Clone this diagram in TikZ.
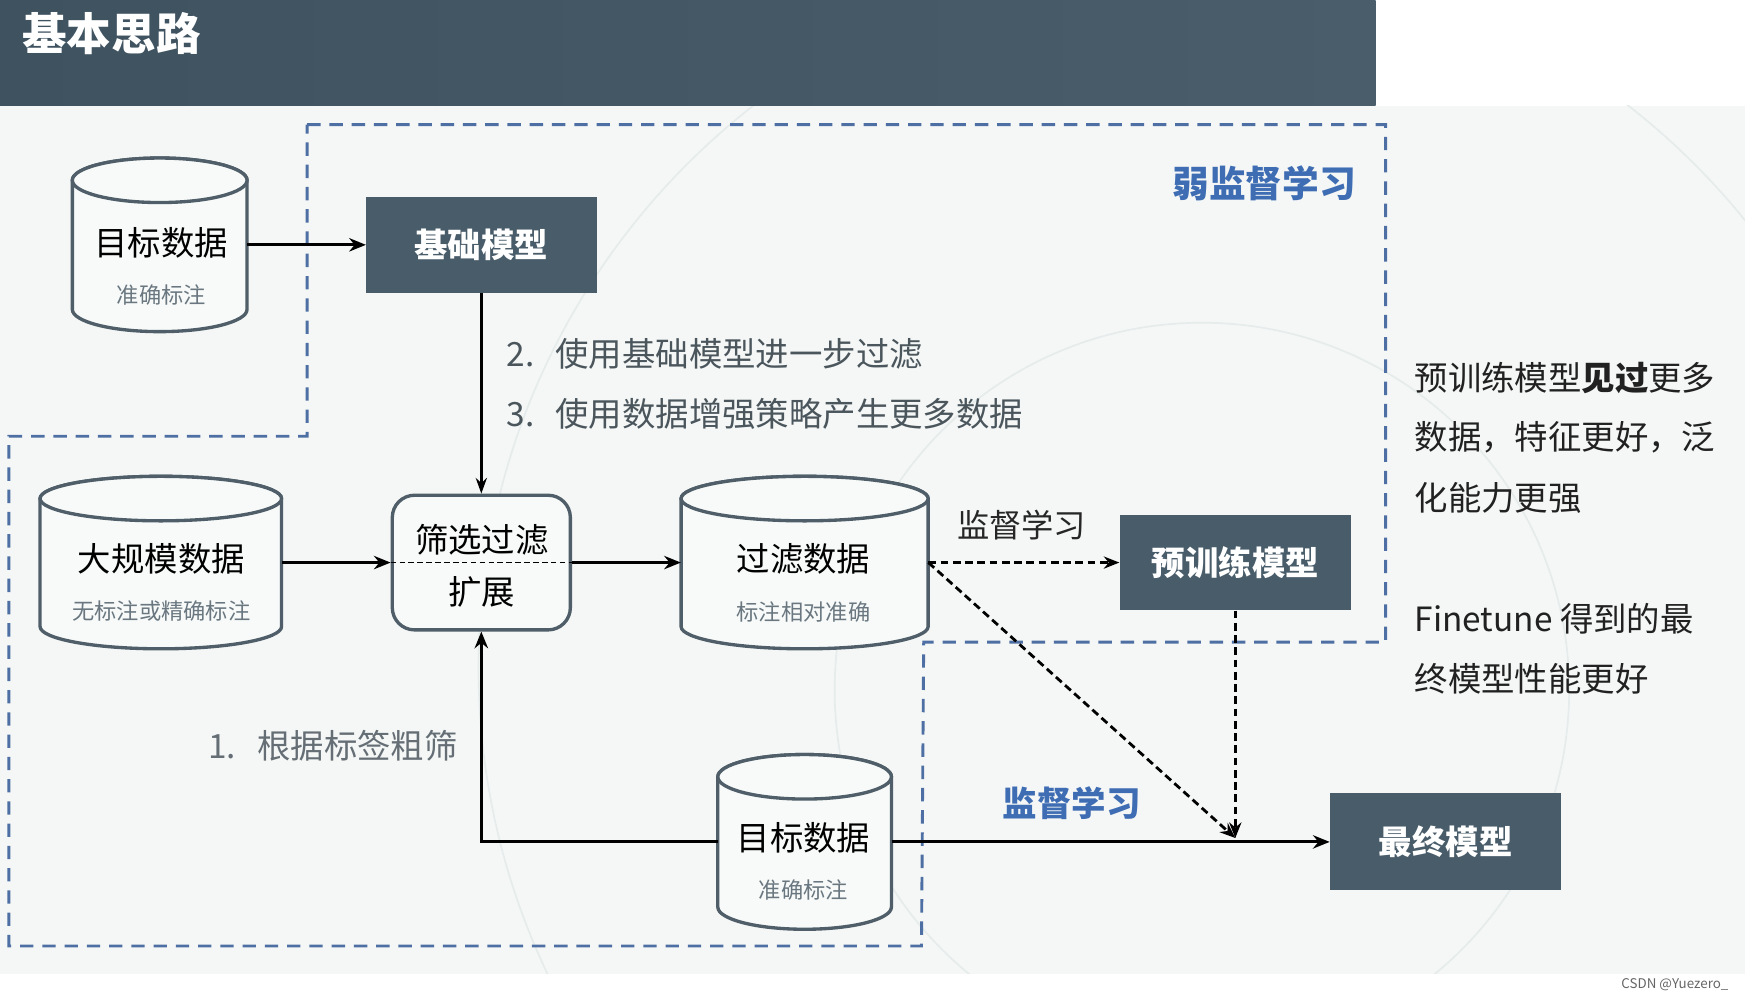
\documentclass[tikz,border=0pt]{standalone}
\usepackage{fontspec}
\setmainfont{Noto Sans CJK SC}
\usetikzlibrary{arrows.meta}
\definecolor{hdrA}{HTML}{3E5260}
\definecolor{hdrB}{HTML}{4A5D6A}
\definecolor{boxc}{HTML}{485C6A}
\definecolor{bgc}{HTML}{F4F7F6}
\definecolor{cylfill}{HTML}{F7FAF9}
\definecolor{dashblue}{HTML}{4E6FA3}
\definecolor{cylline}{HTML}{4F5E68}
\definecolor{labelgray}{HTML}{4A555C}
\definecolor{subgray}{HTML}{6A7780}
\definecolor{bluetxt}{HTML}{3F6DB3}
\definecolor{faint}{HTML}{E6ECEB}
\newcommand\fsz[1]{\fontsize{#1}{#1}\selectfont}
\newcommand\drawcyl[5]{%
  \path[cylbody] (#2-#4,#3+20) -- (#2-#4,#5-20)
     arc[start angle=180,end angle=0,x radius=#4,y radius=20]
     -- (#2+#4,#3+20)
     arc[start angle=0,end angle=-180,x radius=#4,y radius=20] -- cycle;
  \path[cylbody] (#2,#3+20) ellipse[x radius=#4,y radius=20];
  \node[cylnode, minimum width={2*#4pt}, minimum height={(#5-#3)*1pt}] (#1) at (#2,{(#3+#5)/2}) {};
}
\tikzset{
  darkbox/.style={fill=boxc, draw=none, text=white, font=\fsz{30}\bfseries, minimum width=207pt, minimum height=86pt, inner sep=0pt},
  cylnode/.style={draw=none, inner sep=0pt},
  cylbody/.style={draw=cylline, line width=3pt, fill=cylfill},
  maintxt/.style={font=\fsz{30}, text=black, inner sep=0pt},
  subtxt/.style={font=\fsz{20}, text=subgray, inner sep=0pt},
  arr/.style={draw=black, line width=2.8pt, -{Stealth[length=15pt,width=12pt]}},
  thinarr/.style={draw=black, line width=2.2pt, -{Stealth[length=14pt,width=10pt]}},
  darr/.style={draw=black, line width=2.5pt, dash pattern=on 7pt off 4pt, -{Stealth[length=14pt,width=11pt]}},
  region/.style={draw=dashblue, line width=2.6pt, dash pattern=on 12pt off 8pt},
  note/.style={font=\fsz{30}, text=labelgray, anchor=west, inner sep=0pt},
  rtxt/.style={font=\fsz{30}, text=black!87, anchor=west, inner sep=0pt},
  bluelbl/.style={font=\fsz{31}\bfseries, text=bluetxt, inner sep=0pt},
}
\begin{document}
\begin{tikzpicture}[x=1pt,y=-1pt]
\useasboundingbox (0,0) rectangle (1568,899);
% backgrounds
\fill[white] (0,0) rectangle (1568,899);
\fill[bgc] (0,95) rectangle (1568,875);
\begin{scope}
  \clip (0,95) rectangle (1568,875);
  \draw[faint, line width=1.5pt] (1070,600) circle[radius=640];
  \draw[faint, line width=1.5pt] (1080,620) circle[radius=330];
\end{scope}
\shade[left color=hdrA, right color=hdrB] (0,0) rectangle (1236,95);
\node[font=\fsz{40}\bfseries, text=white, anchor=west, inner sep=0pt] (title) at (20,30) {基本思路};

% dashed region
\draw[region] (276,112) -- (1245,112) -- (1245,577) -- (830,577) -- (828,850)
   -- (8,850) -- (8,392) -- (276,392) -- cycle;

% cylinders
\drawcyl{tgt1}{143.5}{142}{78.5}{298}
\node[maintxt] (tgt1t) at (145,218) {目标数据};
\node[subtxt] (tgt1s) at (145,265) {准确标注};

\drawcyl{big}{144.5}{428}{108.5}{583}
\node[maintxt] (bigt) at (145,502) {大规模数据};
\node[subtxt] (bigs) at (145,549) {无标注或精确标注};

\drawcyl{filtd}{723}{428}{111}{583}
\node[maintxt] (filtdt) at (722,502) {过滤数据};
\node[subtxt] (filtds) at (722,550) {标注相对准确};

\drawcyl{tgt2}{723}{678}{78}{835}
\node[maintxt] (tgt2t) at (722,753) {目标数据};
\node[subtxt] (tgt2s) at (722,800) {准确标注};

% boxes
\node[darkbox] (base) at (432.5,220) {基础模型};
\node[darkbox, minimum width=208pt] (pre) at (1110,505.5) {预训练模型};
\node[darkbox, minimum width=208pt, minimum height=87pt] (final) at (1299,756.5) {最终模型};

\node[draw=cylline, line width=3pt, fill=cylfill, rounded corners=20pt,
      minimum width=160pt, minimum height=121pt, inner sep=0pt] (filt) at (432.5,505.5) {};
\draw[black, line width=1.6pt, dash pattern=on 5pt off 3pt] (filt.west) -- (filt.east);
\node[maintxt] (filt1) at (433,485) {筛选过滤};
\node[maintxt] (filt2) at (433,532) {扩展};

% connectors
\draw[arr] (tgt1.east) -- (base.west);
\draw[thinarr] (base.south) -- (filt.north);
\draw[arr] (big.east) -- (filt.west);
\draw[arr] (filt.east) -- (filtd.west);
\draw[darr] (filtd.east) -- (pre.west);
\coordinate (meet) at (1110,753);
\draw[darr] (filtd.east) -- (meet);
\draw[darr] (pre.south) -- (meet);
\draw[arr] (tgt2.east) -- (final.west);
\draw[arr] (tgt2.west) -| (filt.south);

% labels
\node[font=\fsz{29}, text=black!85, inner sep=0pt] (sup1) at (918,472) {监督学习};
\node[bluelbl] (sup2) at (963,722) {监督学习};
\node[bluelbl, font=\fsz{33}\bfseries] (weak) at (1136,165) {弱监督学习};
\node[note] (n2) at (455,318) {2.\hspace{19pt}使用基础模型进一步过滤};
\node[note] (n3) at (455,372) {3.\hspace{19pt}使用数据增强策略产生更多数据};
\node[note, text=labelgray!85] (n1) at (187,670) {1.\hspace{19pt}根据标签粗筛};

\node[rtxt] (r1) at (1271,340) {预训练模型\textbf{见过}更多};
\node[rtxt] (r2) at (1271,393) {数据，特征更好，泛};
\node[rtxt] (r3) at (1271,447) {化能力更强};
\node[rtxt] (r4) at (1271,556) {Finetune 得到的最};
\node[rtxt] (r5) at (1271,610) {终模型性能更好};

\node[font=\fsz{12}, text=black!60, inner sep=0pt] (wm) at (1505,885) {CSDN @Yuezero\_};
\end{tikzpicture}
\end{document}
